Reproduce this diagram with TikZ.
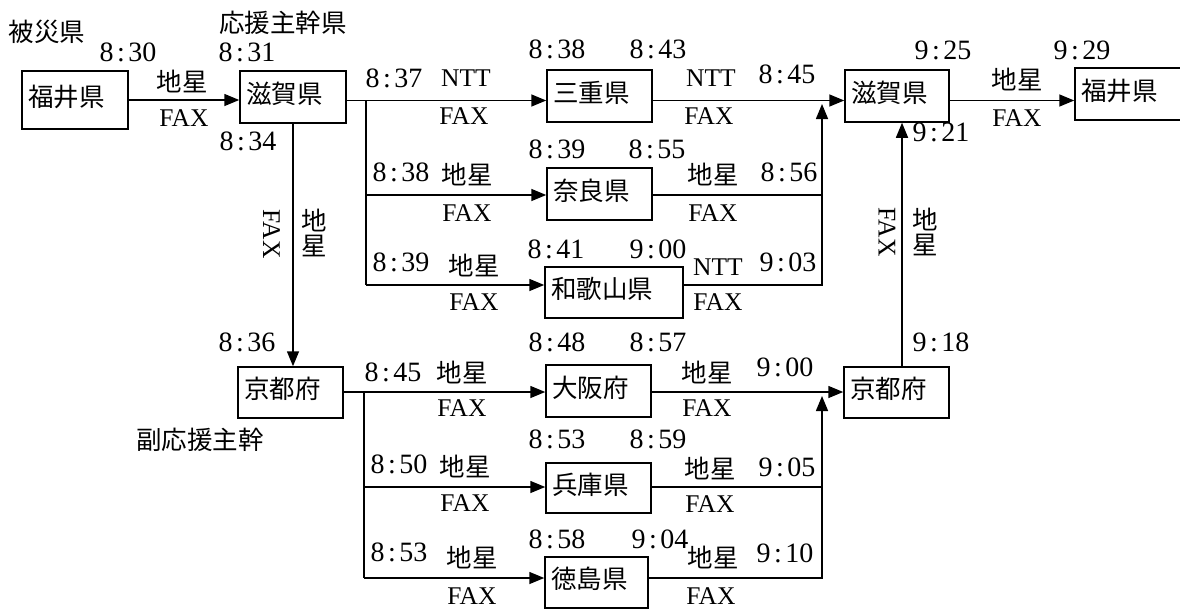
\documentclass[tikz,border=0pt]{standalone}
\usepackage{fontspec}
\setmainfont{Liberation Serif}
\newfontfamily\jp{Noto Sans CJK JP}
\usetikzlibrary{arrows.meta}
\newcommand\T[2]{{\fontsize{28}{28}\selectfont#1\kern3.5pt:\kern3.5pt#2}}
\begin{document}
\begin{tikzpicture}[x=1pt,y=-1pt,
 lbl/.style={inner sep=0pt,font=\fontsize{25.5}{25.5}\selectfont},
 jl/.style={inner sep=0pt,font=\fontsize{25.5}{25.5}\selectfont\jp},
 box/.style={draw,line width=1.5pt,inner xsep=6pt,inner ysep=0pt,text height=22pt,text depth=10pt,font=\fontsize{25.5}{25.5}\selectfont\jp,align=left},
 ln/.style={line width=1.5pt},
 arr/.style={ln,-{Triangle[length=15pt,width=12pt]}},
]
\path[use as bounding box] (0,0) rectangle (1180,610);
\clip (0,0) rectangle (1180,610);

% boxes
\node[box,text width=94pt,minimum height=58pt] (fukuiL) at (75,100) {福井県};
\node[box,text width=94pt,minimum height=52pt] (shigaL) at (293,97) {滋賀県};
\node[box,text width=93pt,minimum height=52pt] (mie) at (599.5,96) {三重県};
\node[box,text width=93pt,minimum height=52pt] (nara) at (599.5,194) {奈良県};
\node[box,text width=126pt,minimum height=51pt] (wakayama) at (614,292.5) {和歌山県};
\node[box,text width=92pt,minimum height=52pt] (shigaR) at (897,96) {滋賀県};
\node[box,text width=103pt,minimum height=52pt] (fukuiR) at (1132.5,94) {福井県};
\node[box,text width=93pt,minimum height=51pt] (kyotoL) at (290.5,392.5) {京都府};
\node[box,text width=93pt,minimum height=52pt] (osaka) at (598.5,391) {大阪府};
\node[box,text width=93pt,minimum height=50pt] (hyogo) at (598.5,488) {兵庫県};
\node[box,text width=91pt,minimum height=51pt] (tokushima) at (596.5,582.5) {徳島県};
\node[box,text width=93pt,minimum height=51pt] (kyotoR) at (896.5,392.5) {京都府};

% junction coordinates
\coordinate (bT1) at (366,100.5);
\coordinate (bT2) at (366,195);
\coordinate (bT3) at (366,285);
\coordinate (cT1) at (822,104);
\coordinate (cT2) at (822,195);
\coordinate (cT3) at (822,285);
\coordinate (bB1) at (364,392);
\coordinate (bB2) at (364,487);
\coordinate (bB3) at (364,578);
\coordinate (cB1) at (822,396);
\coordinate (cB2) at (822,487);
\coordinate (cB3) at (822,578);

% connectors
\draw[arr] (fukuiL.east) -- (fukuiL.east -| shigaL.west);
\draw[arr] (shigaL.east |- bT1) -- (mie.west |- bT1);
\draw[ln] (bT1) -- (bT3);
\draw[arr] (bT2) -- (nara.west |- bT2);
\draw[arr] (bT3) -- (wakayama.west |- bT3);
\draw[arr] (mie.east |- bT1) -- (shigaR.west |- bT1);
\draw[ln] (nara.east |- cT2) -- (cT2);
\draw[arr] (wakayama.east |- cT3) -- (cT3) -- (cT1);
\draw[arr] (shigaR.east |- bT1) -- (fukuiR.west |- bT1);
\draw[arr] (shigaL.south) -- (shigaL.south |- kyotoL.north);
\draw[arr] (kyotoL.east |- bB1) -- (osaka.west |- bB1);
\draw[ln] (bB1) -- (bB3);
\draw[arr] (bB2) -- (hyogo.west |- bB2);
\draw[arr] (bB3) -- (tokushima.west |- bB3);
\draw[arr] (osaka.east |- bB1) -- (kyotoR.west |- bB1);
\draw[ln] (hyogo.east |- cB2) -- (cB2);
\draw[arr] (tokushima.east |- cB3) -- (cB3) -- (cB1);
\draw[arr] ([xshift=5.5pt]kyotoR.north) -- ([xshift=5.5pt]kyotoR.north |- shigaR.south);

% labels top-left
\node[jl] (hisai) at (47,32) {被災県};
\node[jl] (ouen) at (283,23) {応援主幹県};
\node[lbl] (a1) at (128,52) {\T{8}{30}};
\node[lbl] (a2) at (247,52) {\T{8}{31}};
\node[jl] (a3) at (182,82) {地星};
\node[lbl] (a4) at (184,118) {FAX};
\node[lbl] (a5) at (248,141) {\T{8}{34}};
\node[lbl,rotate=-90] (a6) at (271.5,234) {FAX};
\node[jl,align=center] (a7) at (314.5,233) {地\\星};
\node[lbl] (a8) at (247,342) {\T{8}{36}};
\node[jl] (fuku) at (200,440) {副応援主幹};

% row 1
\node[lbl] (b1) at (394,78) {\T{8}{37}};
\node[lbl] (b2) at (466,78) {NTT};
\node[lbl] (b3) at (464,116) {FAX};
\node[lbl] (b4) at (557,49) {\T{8}{38}};
\node[lbl] (b5) at (658,49) {\T{8}{43}};
\node[lbl] (b6) at (711,78) {NTT};
\node[lbl] (b7) at (787,74) {\T{8}{45}};
\node[lbl] (b8) at (709,116) {FAX};
% row 2
\node[lbl] (c1) at (557,149) {\T{8}{39}};
\node[lbl] (c2) at (657,149) {\T{8}{55}};
\node[lbl] (c3) at (401,172) {\T{8}{38}};
\node[jl] (c4) at (467,175) {地星};
\node[lbl] (c5) at (467,213) {FAX};
\node[jl] (c6) at (713,175) {地星};
\node[lbl] (c7) at (789,172) {\T{8}{56}};
\node[lbl] (c8) at (713,213) {FAX};
% row 3
\node[lbl] (d1) at (556,249) {\T{8}{41}};
\node[lbl] (d2) at (658,249) {\T{9}{00}};
\node[lbl] (d3) at (401,262) {\T{8}{39}};
\node[jl] (d4) at (474,266) {地星};
\node[lbl] (d5) at (474,302) {FAX};
\node[lbl] (d6) at (718,267) {NTT};
\node[lbl] (d7) at (788,262) {\T{9}{03}};
\node[lbl] (d8) at (718,302) {FAX};
% right
\node[lbl] (e1) at (943,50) {\T{9}{25}};
\node[lbl] (e2) at (1082,50) {\T{9}{29}};
\node[jl] (e3) at (1017,80) {地星};
\node[lbl] (e4) at (1017,118) {FAX};
\node[lbl] (e5) at (941,132) {\T{9}{21}};
\node[lbl,rotate=-90] (e6) at (887,232) {FAX};
\node[jl,align=center] (e7) at (925,232) {地\\星};
\node[lbl] (e8) at (941,342) {\T{9}{18}};
% row 4
\node[lbl] (f1) at (393,372) {\T{8}{45}};
\node[jl] (f2) at (462,373) {地星};
\node[lbl] (f3) at (462,408) {FAX};
\node[lbl] (f4) at (557,342) {\T{8}{48}};
\node[lbl] (f5) at (658,342) {\T{8}{57}};
\node[jl] (f6) at (707,373) {地星};
\node[lbl] (f7) at (785,367) {\T{9}{00}};
\node[lbl] (f8) at (707,408) {FAX};
% row 5
\node[lbl] (g1) at (557,439) {\T{8}{53}};
\node[lbl] (g2) at (658,439) {\T{8}{59}};
\node[lbl] (g3) at (399,464) {\T{8}{50}};
\node[jl] (g4) at (465,467) {地星};
\node[lbl] (g5) at (465,503) {FAX};
\node[jl] (g6) at (710,469) {地星};
\node[lbl] (g7) at (787,467) {\T{9}{05}};
\node[lbl] (g8) at (710,504) {FAX};
% row 6
\node[lbl] (h1) at (557,539) {\T{8}{58}};
\node[lbl] (h2) at (660,539) {\T{9}{04}};
\node[lbl] (h3) at (399,552) {\T{8}{53}};
\node[jl] (h4) at (472,558) {地星};
\node[lbl] (h5) at (472,596) {FAX};
\node[jl] (h6) at (713,558) {地星};
\node[lbl] (h7) at (785,553) {\T{9}{10}};
\node[lbl] (h8) at (711,596) {FAX};
\end{tikzpicture}
\end{document}
